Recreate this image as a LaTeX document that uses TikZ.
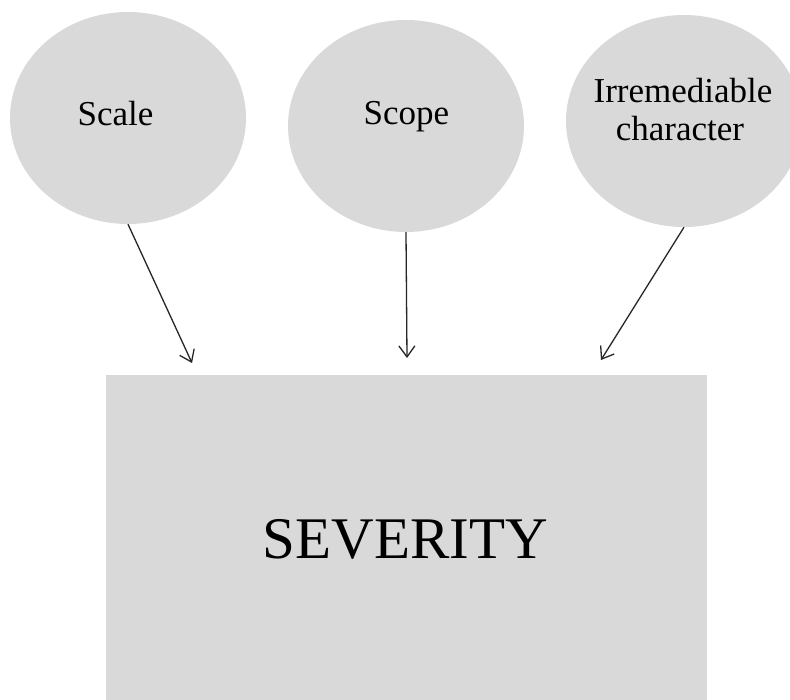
\documentclass[tikz,border=0pt]{standalone}
\usepackage{fontspec}
\setmainfont{Liberation Serif}
\usetikzlibrary{shapes.geometric,arrows.meta}
\definecolor{boxgray}{HTML}{D9D9D9}
\tikzset{
  bubble/.style={ellipse, fill=boxgray, draw=none, minimum width=236pt, minimum height=212pt, inner sep=0pt},
  bigbox/.style={rectangle, fill=boxgray, draw=none, minimum width=601pt, minimum height=345pt, inner sep=0pt, anchor=north west},
  label text/.style={font=\fontsize{35}{38}\selectfont, inner sep=0pt, anchor=base, align=center},
  title text/.style={font=\fontsize{59}{70}\selectfont, inner sep=0pt, anchor=base},
  link/.style={draw=black!85, line width=1.3pt, -{Straight Barb[length=11pt,width=16pt]}}
}
\begin{document}
\begin{tikzpicture}[x=1pt,y=-1pt]
  \useasboundingbox (0,0) rectangle (790,699);
  \clip (0,0) rectangle (790,699);

  % the three contributing factors
  \node[bubble] (scale) at (128,118) {};
  \node[bubble] (scope) at (406,126) {};
  \node[bubble] (irrem) at (684,121) {};

  \node[label text] (scaletxt) at (115.5,125) {Scale};
  \node[label text] (scopetxt) at (406.5,124) {Scope};
  \node[label text] (irremtxt1) at (683,102) {Irremediable};
  \node[label text] (irremtxt2) at (680,140) {character};

  % the outcome
  \node[bigbox] (severity) at (106,375) {};
  \node[title text] (severitytxt) at (405.5,558) {SEVERITY};

  % arrow ends just above the box
  \coordinate (endscale) at (192,363);
  \coordinate (endscope) at (407,358);
  \coordinate (endirrem) at (601,360);

  \draw[link] (scale.south) -- (endscale);
  \draw[link] (scope.south) -- (endscope);
  \draw[link] (irrem.south) -- (endirrem);
\end{tikzpicture}
\end{document}
